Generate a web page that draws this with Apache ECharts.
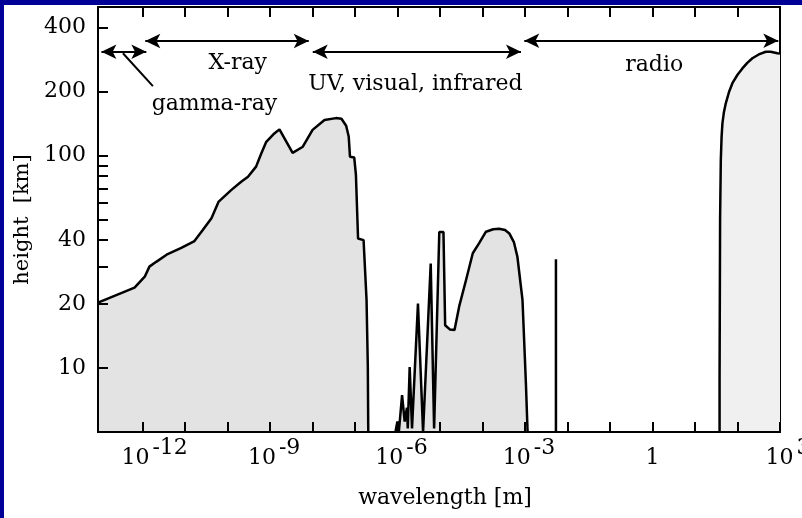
<!DOCTYPE html>
<html><head><meta charset="utf-8">
<script src="https://cdn.jsdelivr.net/npm/echarts@6/dist/echarts.min.js"></script>
<style>
html,body{margin:0;padding:0;width:802px;height:518px;background:#000099;overflow:hidden}
#chart{position:absolute;left:4px;top:5px;width:798px;height:513px;background:#fff}
</style></head><body><div id="chart"></div>
<script>
const FONT = 'DejaVu Serif';
// wavelengths given as log10(metres), heights in km
const uvExp = [-13.05, -12.19, -11.95, -11.84, -11.68, -11.41, -11.09, -10.78, -10.58, -10.38, -10.21, -9.91, -9.68, -9.52, -9.33, -9.21, -9.09, -8.9, -8.78, -8.47, -8.23, -8.0, -7.72, -7.45, -7.32, -7.21, -7.15, -7.12, -7.02, -6.98, -6.93, -6.8, -6.73, -6.7, -6.69];
const uvHeight = [20.3, 23.9, 26.9, 30, 31.6, 34.4, 36.8, 39.6, 44.7, 50.7, 60.7, 68.9, 75.3, 79.5, 88.7, 102, 116, 127, 132.8, 103, 110, 132, 147, 150, 149, 138, 123, 98.8, 98, 81, 40.7, 40, 20.9, 10.2, 5];
const irExp = [-6.05, -6.004, -5.97, -5.894, -5.833, -5.78, -5.76, -5.715, -5.66, -5.52, -5.40, -5.22, -5.14, -5.018, -4.92, -4.88, -4.77, -4.66, -4.55, -4.39, -4.23, -4.08, -3.92, -3.75, -3.61, -3.47, -3.37, -3.26, -3.18, -3.06, -2.98, -2.94];
const irHeight = [5, 5.6, 5, 7.45, 5.6, 6.5, 5.2, 10.1, 5.2, 20.1, 5, 31, 5.2, 43.7, 43.7, 15.9, 15.2, 15.1, 19.5, 25.9, 34.7, 38.7, 43.8, 45, 45.2, 44.6, 43, 39, 33.4, 20.9, 8.5, 5];
const spikeExp = [-2.273, -2.273];
const spikeHeight = [5, 32.5];
const radioExp = [1.578, 1.578, 1.59, 1.607, 1.625, 1.645, 1.68, 1.724, 1.8, 1.88, 2.0, 2.115, 2.23, 2.35, 2.5, 2.665, 2.78, 2.94, 3.0];
const radioHeight = [5, 9.1, 50, 95.3, 122, 141.8, 160, 176, 199, 219, 240, 257, 273, 287, 299, 308, 308, 303, 302];

// axes
const xTickExp = [-12, -11, -10, -9, -8, -7, -6, -5, -4, -3, -2, -1, 0, 1, 2, 3];
const xLabelExp = [-12, -9, -6, -3, 0, 3];
const yTicks = [10, 20, 30, 40, 50, 60, 70, 80, 90, 100, 200, 400];
const yLabels = [10, 20, 40, 100, 200, 400];

// band annotations
const bandNames = ['gamma-ray', 'X-ray', 'UV, visual, infrared', 'radio'];
const bandArrowFromExp = [-12.97, -11.937, -7.996, -3.018];
const bandArrowToExp = [-11.913, -8.09, -3.096, 2.96];
const bandArrowHeight = [308, 346, 308, 347];
const bandLabelExp = [-10.31, -9.76, -5.58, 0.039];
const bandLabelHeight = [175, 272, 217, 267];
const gammaLeaderExp = [-12.463, -11.758];
const gammaLeaderHeight = [303, 212];

const pts = (ex, hs) => ex.map((e, i) => [Math.pow(10, e), hs[i]]);

const arrowData = bandArrowFromExp.map((e, i) => [
  { coord: [Math.pow(10, e), bandArrowHeight[i]] },
  { coord: [Math.pow(10, bandArrowToExp[i]), bandArrowHeight[i]] }
]);
arrowData.push([
  { coord: [Math.pow(10, gammaLeaderExp[0]), gammaLeaderHeight[0]], symbol: 'none' },
  { coord: [Math.pow(10, gammaLeaderExp[1]), gammaLeaderHeight[1]], symbol: 'none' }
]);
const labelData = bandNames.map((n, i) => ({ name: n, coord: [Math.pow(10, bandLabelExp[i]), bandLabelHeight[i]] }));

const txt = { fontFamily: FONT, color: '#000', fontSize: 22, lineHeight: 24 };
const axisLineStyle = { color: '#000', width: 2 };
const curveStyle = { color: '#000', width: 2.5 };

const chart = echarts.init(document.getElementById('chart'), null, { renderer: 'canvas' });
chart.setOption({
  animation: false,
  backgroundColor: '#fff',
  grid: { left: 94, right: 22, top: 2, bottom: 86, containLabel: false, outerBoundsMode: 'none',
          show: true, borderColor: '#000', borderWidth: 2, backgroundColor: 'transparent' },
  xAxis: [{
    type: 'log', min: Math.pow(10, -13.05), max: 1e3, z: 10,
    name: 'wavelength [m]', nameLocation: 'middle', nameGap: 55,
    nameTextStyle: { fontFamily: FONT, color: '#000', fontSize: 22, padding: [0, 0, 0, 12] },
    axisLine: { show: true, lineStyle: axisLineStyle },
    axisTick: { show: true, inside: true, length: 10, lineStyle: axisLineStyle, customValues: xTickExp.map(e => Math.pow(10, e)) },
    splitLine: { show: false }, minorTick: { show: false },
    axisLabel: {
      show: true, margin: 9, hideOverlap: false,
      customValues: xLabelExp.map(e => Math.pow(10, e)),
      formatter: v => {
        const e = Math.round(Math.log10(v));
        if (e === 0) return '{b0|1}';
        const st = e <= -10 ? 'b1' : (e < 0 ? 'b2' : 'b3');
        return '{' + st + '|10}{s|' + (e < 0 ? '-' + (-e) : e) + '}';
      },
      rich: {
        b0: Object.assign({}, txt, { padding: [10, 0, 0, 0] }),
        b1: Object.assign({}, txt, { padding: [10, 0, 0, 24] }),
        b2: Object.assign({}, txt, { padding: [10, 0, 0, 8] }),
        b3: Object.assign({}, txt, { padding: [10, 0, 0, 16] }),
        s: Object.assign({}, txt, { padding: [0, 0, 10, 3] })
      }
    }
  }, {
    type: 'log', min: Math.pow(10, -13.05), max: 1e3, position: 'top', z: 10,
    axisLine: { show: true, lineStyle: axisLineStyle },
    axisTick: { show: true, inside: true, length: 10, lineStyle: axisLineStyle, customValues: xTickExp.map(e => Math.pow(10, e)) },
    axisLabel: { show: false }, splitLine: { show: false }
  }],
  yAxis: {
    type: 'log', min: 5, max: 500, z: 10,
    name: 'height  [km]', nameLocation: 'middle', nameGap: 62,
    nameTextStyle: { fontFamily: FONT, color: '#000', fontSize: 21 },
    axisLine: { show: true, lineStyle: axisLineStyle },
    axisTick: { show: true, inside: true, length: 10, lineStyle: axisLineStyle, customValues: yTicks },
    splitLine: { show: false }, minorTick: { show: false },
    axisLabel: { show: true, margin: 12, customValues: yLabels, fontFamily: FONT, color: '#000', fontSize: 22, formatter: v => String(Math.round(v)) }
  },
  series: [
    { type: 'line', name: 'gamma/X/UV', data: pts(uvExp, uvHeight), showSymbol: false, symbol: 'none',
      lineStyle: curveStyle, areaStyle: { color: '#e3e3e3', opacity: 1, origin: 'start' } },
    { type: 'line', name: 'optical/IR', data: pts(irExp, irHeight), showSymbol: false, symbol: 'none',
      lineStyle: curveStyle, areaStyle: { color: '#e3e3e3', opacity: 1, origin: 'start' } },
    { type: 'line', name: 'spike', data: pts(spikeExp, spikeHeight), showSymbol: false, symbol: 'none',
      lineStyle: curveStyle,
      markLine: { silent: true, symbol: ['arrow', 'arrow'], symbolSize: [11, 15], precision: 20,
        lineStyle: { color: '#000', width: 2, type: 'solid' }, label: { show: false }, data: arrowData },
      markPoint: { silent: true, symbol: 'circle', symbolSize: 1, itemStyle: { color: 'rgba(0,0,0,0)' },
        label: { show: true, position: 'inside', formatter: p => p.name, fontFamily: FONT, color: '#000', fontSize: 22 },
        data: labelData } },
    { type: 'line', name: 'radio', data: pts(radioExp, radioHeight), showSymbol: false, symbol: 'none',
      lineStyle: curveStyle, areaStyle: { color: '#f0f0f0', opacity: 1, origin: 'start' } }
  ]
});
</script></body></html>
